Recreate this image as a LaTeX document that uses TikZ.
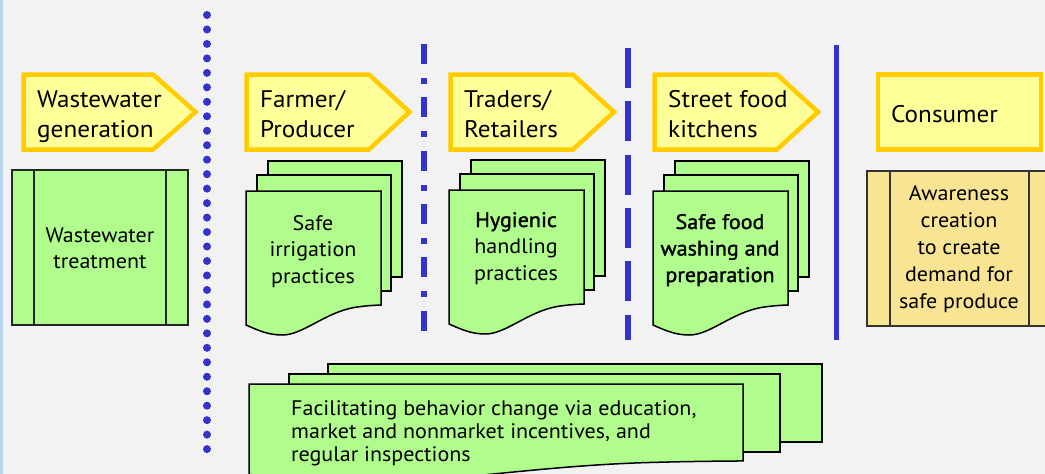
\documentclass[tikz,border=0pt]{standalone}
\usepackage{fontspec}
\setmainfont{PT Sans}[FakeStretch=1.05]
\newfontfamily\semib{PT Sans}[FakeBold=1.5,FakeStretch=1.05]
\definecolor{bgcol}{RGB}{242,242,242}
\definecolor{stripcol}{RGB}{180,212,236}
\definecolor{hdrfill}{RGB}{255,255,153}
\definecolor{hdrline}{RGB}{255,204,0}
\definecolor{sheetgreen}{RGB}{176,252,140}
\definecolor{consfill}{RGB}{248,228,146}
\definecolor{sepblue}{RGB}{51,51,204}
\newcommand\ltext[1]{\begin{tabular}[t]{@{}l@{}}#1\end{tabular}}
\newcommand\ctext[1]{\begin{tabular}[t]{@{}c@{}}#1\end{tabular}}
\newcommand\frontsheet[5]{% L, T, W, yscale, unused
  \begin{scope}[shift={(#1,#2)}, xscale=#3, yscale=#4]
    \draw[sheet] (0,0) -- (1,0) -- (1,114)
      .. controls (0.9,114.5) and (0.85,115.5) .. (0.8,116.5)
      .. controls (0.58,122) and (0.42,144) .. (0.27,144)
      .. controls (0.17,144) and (0.1,140) .. (0,134) -- cycle;
  \end{scope}}
\newcommand\sheetstack[2]{% L, T of front sheet
  \draw[sheet] (#1+22,#2-30) rectangle (#1+156,#2+86);
  \draw[sheet] (#1+11,#2-16) rectangle (#1+145,#2+100);
  \frontsheet{#1}{#2}{135}{1}{}}
\begin{document}
\begin{tikzpicture}[x=1pt,y=-1pt,
  headarrow/.style={fill=hdrfill, draw=hdrline, line width=4.5pt, line join=miter},
  hdrtext/.style={inner sep=0pt, anchor=base west, font=\fontsize{24}{30}\selectfont},
  sheet/.style={fill=sheetgreen, draw=black, line width=1.5pt, line join=miter},
  gtext/.style={inner sep=0pt, anchor=base, font=\fontsize{21}{26.5}\selectfont},
  gbox/.style={fill=sheetgreen, draw=black!85, line width=1.5pt},
  cbox/.style={fill=consfill, draw=black!80, line width=1.5pt},
  sepline/.style={draw=sepblue, line width=6pt, line cap=butt}]
\useasboundingbox (0,0) rectangle (1045,474);
\clip (0,0) rectangle (1045,474);
\fill[bgcol] (0,0) rectangle (1045,474);
\fill[stripcol] (0,0) rectangle (3,474);

% separators
\foreach \i in {0,...,30} \fill[sepblue] (207,15+\i*14.47) circle (4);
\coordinate (sepBtop) at (424,44);
\coordinate (sepBbot) at (424,331);
\coordinate (sepCtop) at (628,48);
\coordinate (sepCbot) at (628,340);
\coordinate (sepDtop) at (836.5,45);
\coordinate (sepDbot) at (836.5,340);
\draw[sepline, dash pattern=on 20pt off 14pt on 6pt off 13.3pt] (sepBtop) -- (sepBbot);
\draw[sepline, dash pattern=on 40pt off 13.3pt] (sepCtop) -- (sepCbot);
\draw[sepline, line width=5pt] (sepDtop) -- (sepDbot);

% header arrows
\draw[headarrow] (23.5,74.5) -- (153,74.5) -- (195.6,112) -- (153,149.5) -- (23.5,149.5) -- cycle;
\draw[headarrow] (246.5,74.5) -- (369,74.5) -- (409.5,112) -- (369,149.5) -- (246.5,149.5) -- cycle;
\draw[headarrow] (450.5,74.5) -- (573,74.5) -- (614,112) -- (573,149.5) -- (450.5,149.5) -- cycle;
\draw[headarrow] (654.5,74.5) -- (777,74.5) -- (818,112) -- (777,149.5) -- (654.5,149.5) -- cycle;
\draw[headarrow] (878,74.5) rectangle (1041,149.5);
\node[hdrtext] (hwg) at (37,107) {\ltext{Wastewater\\generation}};
\node[hdrtext] (hfp) at (260,107) {\ltext{Farmer/\\Producer}};
\node[hdrtext] (htr) at (464,107) {\ltext{Traders/\\Retailers}};
\node[hdrtext] (hsf) at (668,107) {\ltext{Street food\\kitchens}};
\node[hdrtext] (hco) at (891,122) {Consumer};

% wastewater treatment box
\draw[gbox] (12,170) rectangle (188,325);
\draw[gbox] (34,170) -- (34,325);
\draw[gbox] (166,170) -- (166,325);
\node[gtext, font=\fontsize{21}{26}\selectfont] (wt) at (100,242) {\ctext{Wastewater\\treatment}};

% stacks
\sheetstack{246}{191}
\node[gtext] (sip) at (313,230) {\ctext{Safe\\irrigation\\practices}};
\sheetstack{449}{190}
\node[gtext] (hhp) at (516,227) {\ctext{{\semib Hygienic}\\handling\\practices}};
\sheetstack{653}{191}
\node[gtext] (sfw) at (720,229) {\ctext{\semib Safe food\\\semib washing and\\\semib preparation}};

% consumer box
\draw[cbox] (867,171) rectangle (1052,326);
\draw[cbox] (890,171) -- (890,326);
\draw[cbox] (1029,171) -- (1029,326);
\node[gtext, font=\fontsize{21}{27}\selectfont] (acr) at (959,200) {\ctext{Awareness\\creation\\to create\\demand for\\safe produce}};

% bottom stack
\draw[sheet] (328,364) rectangle (822,442);
\draw[sheet] (289,374) rectangle (780,452);
\frontsheet{249}{384}{494}{0.675}{}
\node[gtext, anchor=base west, font=\fontsize{21}{23}\selectfont] (fbc) at (291,415) {\ltext{Facilitating behavior change via education,\\market and nonmarket incentives, and\\regular inspections}};
\end{tikzpicture}
\end{document}
